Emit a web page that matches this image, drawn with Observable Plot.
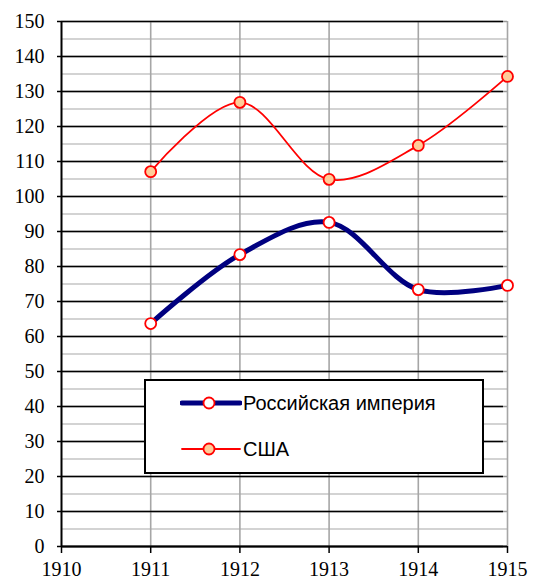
<!DOCTYPE html>
<html><head><meta charset="utf-8">
<script src="https://cdn.jsdelivr.net/npm/d3@7"></script>
<script src="https://cdn.jsdelivr.net/npm/@observablehq/plot@0.6"></script>
<style>
body{margin:0;background:#fff;}
#wrap{position:relative;width:533px;height:587px;}
#legend{position:absolute;left:144px;top:379px;width:336px;height:91px;border:2px solid #000;background:#fff;font-family:"Liberation Sans",Arial,sans-serif;font-size:20px;}
.row{position:absolute;left:0;display:flex;align-items:center;}
</style>
</head><body>
<div id="wrap"></div>
<script>
const years = [1911, 1912, 1913, 1914, 1915];
const russia = [63.7, 83.4, 92.6, 73.4, 74.6];
const usa = [107.1, 126.9, 104.9, 114.6, 134.3];
const seriesNames = ["Российская империя", "США"];
const xTicks = [1910, 1911, 1912, 1913, 1914, 1915];
const yTicks = d3.range(0, 151, 10);
const yMinor = d3.range(5, 150, 10);

const rus = years.map((y, i) => ({year: y, value: russia[i]}));
const us = years.map((y, i) => ({year: y, value: usa[i]}));

const serif = "Times New Roman";
const chart = Plot.plot({
  width: 533, height: 587,
  marginLeft: 61, marginRight: 26, marginTop: 21, marginBottom: 41,
  x: {domain: [1910, 1915], axis: null},
  y: {domain: [0, 150], axis: null},
  style: {background: "#fff", color: "#000", fontFamily: serif, fontSize: "20px"},
  marks: [
    Plot.gridY(yMinor, {stroke: "#c4c4c4", strokeOpacity: 1, strokeWidth: 1.3}),
    Plot.gridY(yTicks, {stroke: "#999", strokeOpacity: 1, strokeWidth: 1.3}),
    Plot.gridX(years, {stroke: "#a6a6a6", strokeOpacity: 1, strokeWidth: 1.6}),
    Plot.tickY(yTicks, {y: d => d, frameAnchor: "left", dx: -4, stroke: "#000", strokeWidth: 1.5, inset: 0}),
    Plot.text(yTicks, {y: d => d, text: d => String(d), frameAnchor: "left", textAnchor: "end", dx: -17, fontFamily: serif, fontSize: 20, fill: "#000"}),
    Plot.text(xTicks, {x: d => d, text: d => String(d), frameAnchor: "bottom", dy: 29, fontFamily: serif, fontSize: 20, fill: "#000"}),
    Plot.ruleX(xTicks, {x: d => d, y1: 0, y2: 0, stroke: "#000", strokeWidth: 1.5, insetBottom: -7}),
    Plot.ruleX([1910], {stroke: "#000", strokeWidth: 2}),
    Plot.ruleY([0], {stroke: "#000", strokeWidth: 2}),
    Plot.line(us, {x: "year", y: "value", stroke: "#ff0000", strokeWidth: 1.8, curve: "catmull-rom"}),
    Plot.line(rus, {x: "year", y: "value", stroke: "#000080", strokeWidth: 5, curve: "catmull-rom"}),
    Plot.dot(us, {x: "year", y: "value", r: 5.5, fill: "#ffcc99", stroke: "#ff0000", strokeWidth: 1.8}),
    Plot.dot(rus, {x: "year", y: "value", r: 5.5, fill: "#fff", stroke: "#ff0000", strokeWidth: 1.8})
  ]
});
const wrap = document.getElementById("wrap");
wrap.appendChild(chart);

const legend = document.createElement("div");
legend.id = "legend";
const items = [
  {name: seriesNames[0], stroke: "#000080", sw: 5, fill: "#fff", top: 10},
  {name: seriesNames[1], stroke: "#ff0000", sw: 1.8, fill: "#ffcc99", top: 56}
];
for (const it of items) {
  const row = document.createElement("div");
  row.className = "row";
  row.style.top = it.top + "px";
  row.style.left = "34px";
  row.innerHTML = `<svg width="62" height="24"><line x1="2" x2="60" y1="12" y2="12" stroke="${it.stroke}" stroke-width="${it.sw}" stroke-linecap="round"/><circle cx="29" cy="12" r="5.5" fill="${it.fill}" stroke="#ff0000" stroke-width="1.8"/></svg><span style="margin-left:1px">${it.name}</span>`;
  legend.appendChild(row);
}
wrap.appendChild(legend);
</script>
</body></html>
